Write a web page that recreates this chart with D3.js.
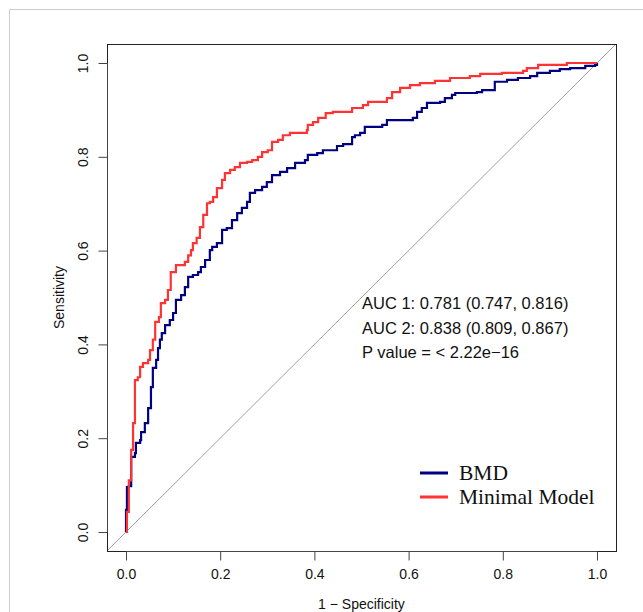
<!DOCTYPE html>
<html><head><meta charset="utf-8">
<script src="https://cdn.jsdelivr.net/npm/d3@7"></script>
<style>html,body{margin:0;padding:0;background:#fff;}svg{display:block;}</style>
</head><body>
<script>
// ---- data (1 - specificity, sensitivity) ----
const bmdFpr = [0,0,0.002,0.006,0.011,0.019,0.021,0.030,0.032,0.040,0.047,0.053,0.057,0.064,0.068,0.072,0.076,0.083,0.093,0.100,0.106,0.117,0.125,0.132,0.142,0.153,0.159,0.168,0.178,0.183,0.193,0.204,0.214,0.225,0.236,0.246,0.257,0.263,0.274,0.289,0.299,0.310,0.327,0.342,0.359,0.380,0.386,0.406,0.418,0.448,0.461,0.480,0.486,0.497,0.507,0.544,0.554,0.609,0.618,0.628,0.639,0.667,0.677,0.692,0.699,0.745,0.756,0.783,0.809,0.832,0.858,0.873,0.900,0.921,0.943,0.975,0.996,1.0];
const bmdTpr = [0,0.047,0.096,0.098,0.160,0.168,0.190,0.196,0.213,0.232,0.264,0.309,0.350,0.367,0.392,0.410,0.424,0.441,0.452,0.467,0.495,0.505,0.522,0.544,0.548,0.554,0.565,0.580,0.601,0.608,0.616,0.644,0.648,0.665,0.680,0.691,0.704,0.723,0.729,0.736,0.746,0.761,0.768,0.776,0.787,0.793,0.804,0.808,0.814,0.823,0.827,0.842,0.846,0.851,0.864,0.868,0.878,0.883,0.896,0.904,0.915,0.917,0.925,0.932,0.936,0.938,0.942,0.960,0.964,0.968,0.972,0.979,0.983,0.987,0.989,0.994,0.996,1.0];
const minFpr = [0,0.002,0.006,0.011,0.015,0.019,0.025,0.030,0.036,0.047,0.051,0.057,0.062,0.070,0.074,0.083,0.089,0.095,0.106,0.125,0.132,0.138,0.142,0.150,0.157,0.164,0.172,0.178,0.185,0.193,0.204,0.210,0.221,0.231,0.242,0.257,0.268,0.280,0.289,0.301,0.310,0.323,0.333,0.348,0.384,0.386,0.397,0.408,0.424,0.439,0.480,0.503,0.514,0.554,0.565,0.582,0.603,0.624,0.656,0.688,0.730,0.752,0.798,0.843,0.851,0.875,0.936,1.0];
const minTpr = [0,0.043,0.110,0.175,0.232,0.324,0.330,0.352,0.360,0.367,0.388,0.410,0.448,0.458,0.488,0.495,0.516,0.554,0.569,0.576,0.590,0.601,0.616,0.627,0.650,0.676,0.701,0.704,0.714,0.733,0.751,0.765,0.772,0.778,0.787,0.789,0.793,0.800,0.810,0.814,0.832,0.836,0.846,0.851,0.857,0.868,0.874,0.883,0.893,0.896,0.904,0.910,0.917,0.925,0.938,0.947,0.953,0.957,0.962,0.968,0.972,0.977,0.979,0.983,0.989,0.996,1.0,1.0];
const tickVals = [0,0.2,0.4,0.6,0.8,1.0];
const tickLabels = ["0.0","0.2","0.4","0.6","0.8","1.0"];
const statLines = ["AUC 1: 0.781 (0.747, 0.816)","AUC 2: 0.838 (0.809, 0.867)","P value = < 2.22e\u221216"];
const legendNames = ["BMD","Minimal Model"];
const seriesColors = ["#000080","#ff3333"];

const W = 643, H = 612;
const svg = d3.select("body").append("svg").attr("width", W).attr("height", H);

// outer frame
svg.append("line").attr("x1",9.5).attr("x2",W).attr("y1",9.5).attr("y2",9.5).attr("stroke","#cccccc");
svg.append("line").attr("x1",9.5).attr("x2",9.5).attr("y1",9.5).attr("y2",H).attr("stroke","#cccccc");

const x = d3.scaleLinear().domain([0,1]).range([126,597]);
const y = d3.scaleLinear().domain([0,1]).range([532,63]);
const pad = 0.04;
const bx0 = x(-pad), bx1 = x(1+pad), by0 = y(1+pad), by1 = y(-pad);

svg.append("defs").append("clipPath").attr("id","clip")
  .append("rect").attr("x",bx0).attr("y",by0).attr("width",bx1-bx0).attr("height",by1-by0);

// diagonal
svg.append("line").attr("clip-path","url(#clip)")
  .attr("x1",x(-pad)).attr("y1",y(-pad)).attr("x2",x(1+pad)).attr("y2",y(1+pad))
  .attr("stroke","#a0a0a0").attr("stroke-width",1);

const line = d3.line().x(d=>x(d[0])).y(d=>y(d[1])).curve(d3.curveStepAfter);
const series = [d3.zip(bmdFpr,bmdTpr), d3.zip(minFpr,minTpr)];
series.forEach((s,i)=>{
  svg.append("path").datum(s).attr("d",line).attr("fill","none")
    .attr("stroke",seriesColors[i]).attr("stroke-width",2.2).attr("clip-path","url(#clip)");
});

// box
svg.append("rect").attr("x",Math.round(bx0)+0.5).attr("y",Math.round(by0)+0.5)
  .attr("width",Math.round(bx1)-Math.round(bx0)).attr("height",Math.round(by1)-Math.round(by0))
  .attr("fill","none").attr("stroke","#222").attr("stroke-width",1);

// axes
const fam = "'Liberation Sans', Arial, Helvetica, sans-serif";
const xAxis = d3.axisBottom(x).tickValues(tickVals).tickFormat((d,i)=>tickLabels[i]).tickSize(9).tickPadding(9);
const gx = svg.append("g").attr("transform",`translate(0,${Math.round(by1)+0.5})`).call(xAxis);
gx.select(".domain").attr("d",`M${x(0)},0H${x(1)}`).attr("stroke","#444");
gx.selectAll(".tick line").attr("stroke","#444");
gx.selectAll("text").attr("font-family",fam).attr("font-size",14).attr("fill","#111");

const yAxis = d3.axisLeft(y).tickValues(tickVals).tickFormat((d,i)=>tickLabels[i]).tickSize(9).tickPadding(0);
const gy = svg.append("g").attr("transform",`translate(${Math.round(bx0)+0.5},0)`).call(yAxis);
gy.select(".domain").attr("d",`M0,${y(0)}V${y(1)}`).attr("stroke","#444");
gy.selectAll(".tick line").attr("stroke","#444");
gy.selectAll("text").attr("font-family",fam).attr("font-size",14).attr("fill","#111")
  .attr("transform","translate(-20,0) rotate(-90)").attr("x",0).attr("dy","0").attr("text-anchor","middle");

svg.append("text").attr("x",(x(0)+x(1))/2).attr("y",609).attr("text-anchor","middle")
  .attr("font-family",fam).attr("font-size",14).attr("fill","#111").text("1 \u2212 Specificity");
svg.append("text").attr("transform",`translate(64,${(y(0)+y(1))/2}) rotate(-90)`).attr("text-anchor","middle")
  .attr("font-family",fam).attr("font-size",14).attr("fill","#111").text("Sensitivity");

// stats text
statLines.forEach((t,i)=>{
  svg.append("text").attr("x",362).attr("y",309+i*24.5)
    .attr("font-family",fam).attr("font-size",16.5).attr("fill","#111").text(t);
});

// legend
const serif = "'Liberation Serif', 'Times New Roman', serif";
legendNames.forEach((n,i)=>{
  const ly = 473 + i*24;
  svg.append("line").attr("x1",420).attr("x2",448).attr("y1",ly).attr("y2",ly)
    .attr("stroke",seriesColors[i]).attr("stroke-width",3);
  svg.append("text").attr("x",459).attr("y",ly+7).attr("font-family",serif).attr("font-size",21.5)
    .attr("fill","#111").text(n);
});
</script>
</body></html>
